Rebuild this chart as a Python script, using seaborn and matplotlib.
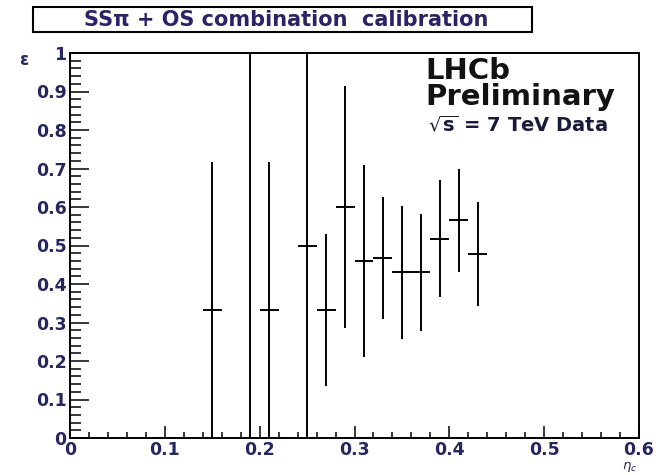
import matplotlib
matplotlib.use('Agg')
import matplotlib.pyplot as plt
from matplotlib.patches import Rectangle
from matplotlib.ticker import MultipleLocator, FixedLocator
import seaborn as sns
import pandas as pd

# Data
eta_c = [0.15, 0.19, 0.21, 0.25, 0.27, 0.29, 0.31, 0.33, 0.35, 0.37, 0.39, 0.41, 0.43]
omega = [0.333, 1.0, 0.333, 0.5, 0.333, 0.6, 0.46, 0.467, 0.43, 0.43, 0.517, 0.565, 0.478]
omega_err = [0.385, 1.0, 0.385, 0.6, 0.198, 0.315, 0.25, 0.158, 0.173, 0.153, 0.152, 0.134, 0.135]
bin_half = [0.01] * len(eta_c)

x_ticks = [0, 0.1, 0.2, 0.3, 0.4, 0.5, 0.6]
x_ticklabels = ['0', '0.1', '0.2', '0.3', '0.4', '0.5', '0.6']
y_ticks = [0, 0.1, 0.2, 0.3, 0.4, 0.5, 0.6, 0.7, 0.8, 0.9, 1.0]
y_ticklabels = ['0', '0.1', '0.2', '0.3', '0.4', '0.5', '0.6', '0.7', '0.8', '0.9', '1']

df = pd.DataFrame({'eta_c': eta_c, 'omega': omega, 'err': omega_err, 'xerr': bin_half})

sns.set_style('white')
plt.rcParams['font.family'] = ['DejaVu Sans']
plt.rcParams['mathtext.fontset'] = 'dejavusans'
label_col = '#28265e'

W, H = 656, 475
fig = plt.figure(figsize=(W / 100, H / 100), dpi=100)
ax = fig.add_axes([70 / W, 1 - 438 / H, 569 / W, 385 / H])

ax.errorbar(df['eta_c'], df['omega'], yerr=df['err'], xerr=df['xerr'],
            fmt='none', ecolor='black', elinewidth=1.4, capsize=0)

ax.set_xlim(0, 0.6)
ax.set_ylim(0, 1)
ax.xaxis.set_major_locator(FixedLocator(x_ticks))
ax.set_xticklabels(x_ticklabels)
ax.yaxis.set_major_locator(FixedLocator(y_ticks))
ax.set_yticklabels(y_ticklabels)
ax.xaxis.set_minor_locator(MultipleLocator(0.02))
ax.yaxis.set_minor_locator(MultipleLocator(0.02))

ax.tick_params(axis='both', which='both', direction='in', color='black',
               left=True, bottom=True, top=False, right=False,
               labelcolor=label_col, labelsize=12.5)
ax.tick_params(axis='x', which='major', length=8.6, width=1.1, pad=2.5)
ax.tick_params(axis='x', which='minor', length=4.3, width=1.1)
ax.tick_params(axis='y', which='major', length=13.7, width=1.1, pad=2.5)
ax.tick_params(axis='y', which='minor', length=8, width=1.1)
for lab in ax.get_xticklabels() + ax.get_yticklabels():
    lab.set_fontweight('bold')
for sp in ax.spines.values():
    sp.set_linewidth(1.4)
    sp.set_color('black')

# LHCb label
fig.text(425 / W, 1 - 79 / H, 'LHCb', fontsize=21, fontweight='bold', color='#121212', va='baseline')
fig.text(425 / W, 1 - 105 / H, 'Preliminary', fontsize=21, fontweight='bold', color='#121212', va='baseline')
fig.text(428 / W, 1 - 131 / H, r'$\sqrt{\mathbf{s}}$ = 7 TeV Data', fontsize=14, fontweight='bold',
         color='#1a1a3a', va='baseline')

# title box
fig.add_artist(Rectangle((33 / W, 1 - 32 / H), 499 / W, 25 / H, transform=fig.transFigure,
                         facecolor='white', edgecolor='black', linewidth=1.5))
fig.text(286 / W, 1 - 20 / H, 'SSπ + OS combination  calibration', fontsize=15,
         fontweight='bold', color='#2c2266', ha='center', va='center')

# axis titles
fig.text(24 / W, 1 - 60 / H, 'ε', fontsize=12, fontweight='bold', color=label_col, ha='center', va='center')
fig.text(637 / W, 1 - 474.5 / H, r'$\eta_{c}$', fontsize=9.5, color=label_col, ha='right', va='bottom')

fig.savefig('out.png', dpi=100)
